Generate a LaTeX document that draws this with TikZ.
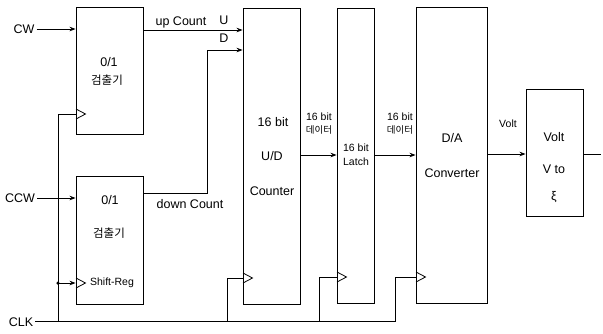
\documentclass[tikz,border=0pt]{standalone}
\usepackage{fontspec}
\setmainfont{Liberation Sans}
\newfontfamily\kr{Noto Sans CJK KR}
\usetikzlibrary{arrows.meta}
\tikzset{
  blk/.style={draw, line width=0.9pt, rectangle, inner sep=0pt},
  wire/.style={line width=0.8pt},
  arr/.style={wire, -{Stealth[length=6pt,width=4.5pt]}},
  txt/.style={inner sep=0pt, font=\fontsize{12.5}{14}\selectfont},
  small/.style={inner sep=0pt, font=\fontsize{10.5}{12}\selectfont},
  krtxt/.style={inner sep=0pt, font=\kr\fontsize{11.5}{13}\selectfont},
  krsmall/.style={inner sep=0pt, font=\kr\fontsize{9.5}{11}\selectfont},
  dotc/.style={circle, fill, inner sep=0pt, minimum size=3.5pt}
}
\newcommand{\clocktri}[2]{\draw[wire] (#1,#2-5) -- (#1+9.5,#2) -- (#1,#2+5);}
\begin{document}
\begin{tikzpicture}[x=1pt,y=-1pt]
\useasboundingbox[fill=white] (0,0) rectangle (603,333);
% blocks
\node[blk, minimum width=67pt, minimum height=127pt] (A) at (109.5,70.5) {};
\node[blk, minimum width=67pt, minimum height=128pt] (B) at (109.5,240) {};
\node[blk, minimum width=57pt, minimum height=296pt] (C) at (271.5,156) {};
\node[blk, minimum width=37pt, minimum height=295pt] (L) at (355.5,155.5) {};
\node[blk, minimum width=71pt, minimum height=296pt] (D) at (451.5,155) {};
\node[blk, minimum width=57pt, minimum height=127pt] (V) at (554.5,152.5) {};
% clock triangles
\clocktri{76}{114}
\clocktri{76}{283}
\clocktri{243}{278}
\clocktri{337}{277}
\clocktri{416}{277}
% block texts
\node[txt] (a1) at (109,62) {0/1};
\node[krtxt] (a2) at (107,80) {검출기};
\node[txt] (b1) at (110,200) {0/1};
\node[krtxt] (b2) at (109,233) {검출기};
\node[small] (b3) at (112,283) {Shift-Reg};
\node[txt] (c1) at (273,122) {16 bit};
\node[txt] (c2) at (272,156) {U/D};
\node[txt] (c3) at (272,191) {Counter};
\node[small] (l1) at (356,148) {16 bit};
\node[small] (l2) at (356,162) {Latch};
\node[txt] (d1) at (452,138) {D/A};
\node[txt] (d2) at (452,173) {Converter};
\node[txt] (v1) at (554,137) {Volt};
\node[txt] (v2) at (554,169) {V to};
\node[txt] (v3) at (554,197) {ξ};
% inputs
\node[txt] (cw) at (24,29) {CW};
\node[txt] (ccw) at (20,198) {CCW};
\node[txt] (clk) at (21,322) {CLK};
% labels
\node[txt] (upl) at (181,22) {up Count};
\node[txt] (ul) at (224,20) {U};
\node[txt] (dl) at (224,38) {D};
\node[txt] (dnl) at (190,204) {down Count};
\node[small] (x1) at (319,117) {16 bit};
\node[krsmall] (x2) at (319,130) {데이터};
\node[small] (y1) at (400,117) {16 bit};
\node[krsmall] (y2) at (400,130) {데이터};
\node[small] (vl) at (508,124) {Volt};
% coordinates
\coordinate (dn1) at (207,193);
\coordinate (dn2) at (207,50);
\coordinate (k0) at (58,321);
\coordinate (k1) at (58,114);
\coordinate (kd) at (58,283);
\coordinate (kc1) at (227,321);
\coordinate (kc2) at (227,278);
\coordinate (kl1) at (319,321);
\coordinate (kl2) at (319,277);
\coordinate (kd1) at (395,321);
\coordinate (kd2) at (395,277);
\coordinate (out) at (601,154);
% connectors
\draw[arr] (cw.east) ++(2,0) -- (A.west |- cw.east);
\draw[arr] (ccw.east) ++(2,0) -- (B.west |- ccw.east);
\draw[arr] (A.east |- 0,30) -- (C.west |- 0,30);
\draw[arr] (B.east |- dn1) -- (dn1) -- (dn2) -- (C.west |- dn2);
\draw[arr] (C.east |- 0,155) -- (L.west |- 0,155);
\draw[arr] (L.east |- 0,155) -- (D.west |- 0,155);
\draw[arr] (D.east |- 0,154) -- (V.west |- 0,154);
\draw[wire] (V.east |- out) -- (out);
% clock network
\draw[wire] (clk.east) ++(2,-1) -- (kd1) -- (kd2) -- (D.west |- kd2);
\draw[wire] (kl1) -- (kl2) -- (L.west |- kl2);
\draw[wire] (kc1) -- (kc2) -- (C.west |- kc2);
\draw[wire] (k0) -- (k1) -- (A.west |- k1);
\node[dotc] (kdot) at (kd) {};
\draw[arr] (kdot.center) -- (B.west |- kd);
\end{tikzpicture}
\end{document}
